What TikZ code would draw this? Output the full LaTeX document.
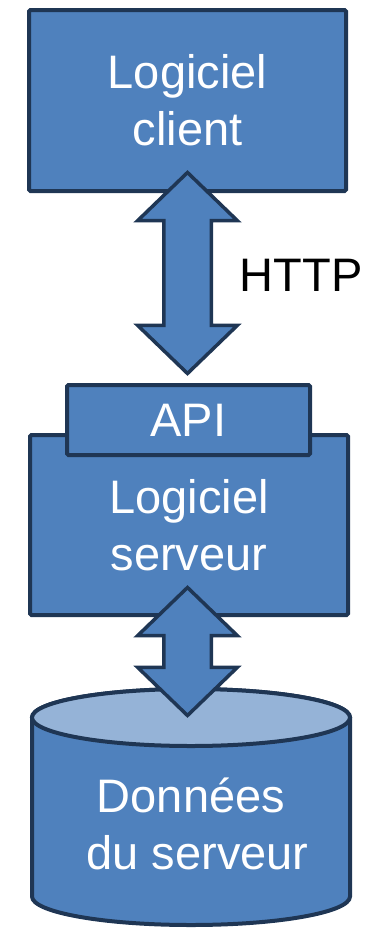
\documentclass[tikz,border=0pt]{standalone}
\usepackage{fontspec}
\setmainfont{Liberation Sans}
\usetikzlibrary{shapes.arrows}
\definecolor{boxfill}{HTML}{4F81BD}
\definecolor{boxline}{HTML}{1F3654}
\definecolor{lidfill}{HTML}{95B3D7}
\begin{document}
\begin{tikzpicture}[x=1pt,y=1pt,
  block/.style={draw=boxline, fill=boxfill, line width=4pt, rounded corners=1.5pt,
    text=white, font=\fontsize{47}{57}\selectfont, align=center, inner sep=0pt},
  link/.style={double arrow, draw=boxline, fill=boxfill, line width=3.5pt,
    minimum width=96pt, double arrow head extend=26pt, double arrow tip angle=92,
    inner xsep=0pt, inner ysep=22pt, rotate=90},
  label/.style={font=\fontsize{47}{57}\selectfont, inner sep=0pt}]
\useasboundingbox (0,0) rectangle (380,-929);

% software blocks
\node[block, minimum width=317pt, minimum height=181pt] (client) at (187.5,-100.5)
  {Logiciel\\client};
\node[block, minimum width=318pt, minimum height=180pt] (server) at (189,-525)
  {Logiciel\\serveur};
\node[block, minimum width=243pt, minimum height=70pt] (api) at (188.5,-420) {API};

% database cylinder
\coordinate (dbtop) at (191,-717.5);
\coordinate (dbbot) at (191,-896.5);
\filldraw[fill=boxfill, draw=boxline, line width=4pt]
  ([xshift=-159pt]dbtop) -- ([xshift=-159pt]dbbot)
  arc[start angle=180, end angle=360, x radius=159pt, y radius=28.5pt]
  -- ([xshift=159pt]dbtop)
  arc[start angle=0, end angle=180, x radius=159pt, y radius=28.5pt] -- cycle;
\filldraw[fill=lidfill, draw=boxline, line width=4pt]
  (dbtop) ellipse[x radius=159pt, y radius=28.5pt];
\node[block, draw=none, fill=none] (db) at (191,-824)
  {Donn\'ees\\\hspace*{0.28em}du serveur};

% connections
\node[link, minimum height=201pt] (http) at (187.5,-273) {};
\node[link, minimum height=128pt] (store) at (187.5,-651.5) {};
\node[label, anchor=base west] (proto) at (239.5,-291) {HTTP};
\end{tikzpicture}
\end{document}
